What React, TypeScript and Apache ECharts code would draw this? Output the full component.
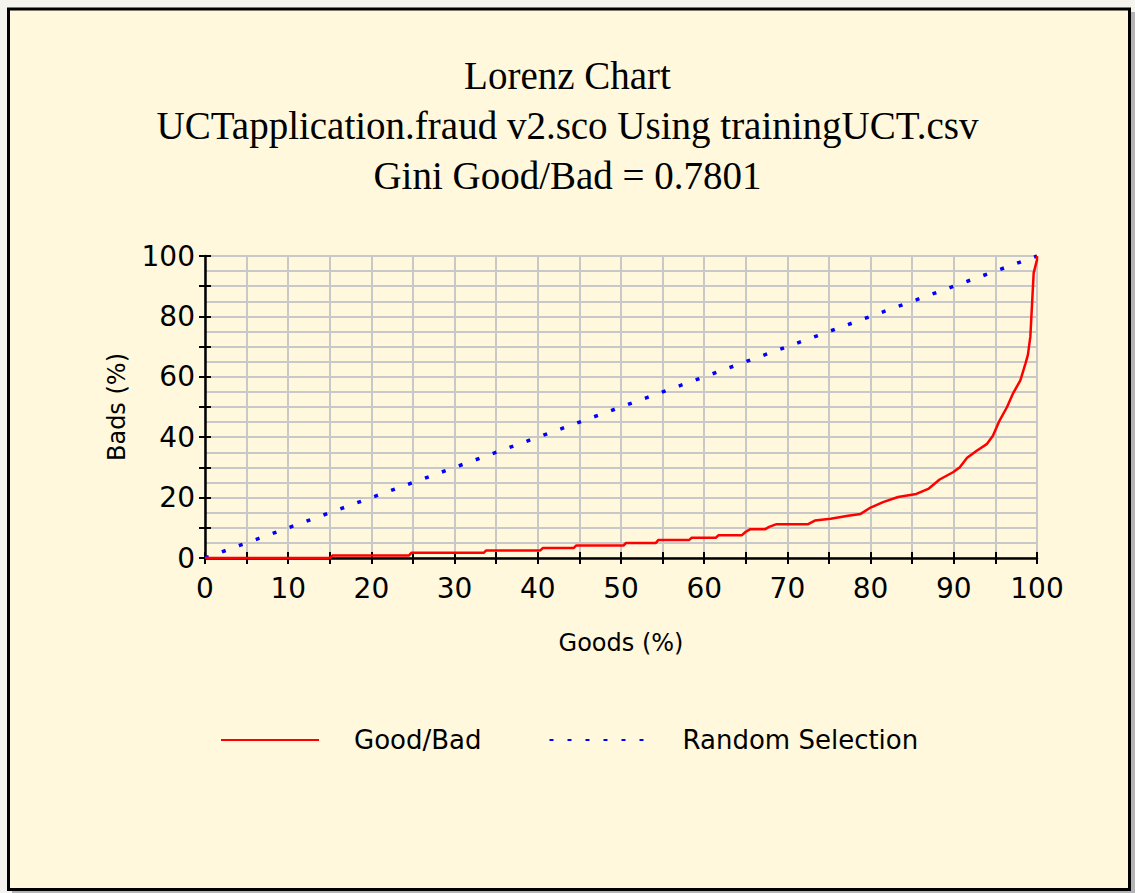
import React, { useEffect, useRef } from "react";
import * as echarts from "echarts";

const titleLines = [
  "Lorenz Chart",
  "UCTapplication.fraud v2.sco Using trainingUCT.csv",
  "Gini Good/Bad = 0.7801",
];
const seriesNames = ["Good/Bad", "Random Selection"];
const xAxisName = "Goods (%)";
const yAxisName = "Bads (%)";

// Lorenz curve (Good/Bad)
const goodsPct = [
  0, 15, 15.3, 24.5, 24.8, 33.5, 33.8, 40.3, 40.6, 44.3, 44.6, 50.3, 50.6, 54.2,
  54.5, 58.2, 58.5, 61.4, 61.7, 64.5, 65.0, 65.5, 67.3, 67.8, 68.7, 72.5, 73.3,
  75.2, 77.3, 78.8, 80.0, 81.5, 83.3, 85.5, 87.0, 88.3, 89.9, 90.7, 91.6, 92.8,
  94.0, 94.7, 95.5, 96.4, 97.1, 98.0, 98.6, 98.9, 99.2, 99.4, 99.6, 100, 100,
];
const badsPct = [
  0, 0, 0.8, 0.8, 1.7, 1.7, 2.5, 2.5, 3.3, 3.3, 4.1, 4.1, 5.0, 5.0, 6.0, 6.0,
  6.7, 6.7, 7.5, 7.5, 8.7, 9.5, 9.5, 10.3, 11.2, 11.2, 12.4, 13.0, 14.0, 14.6,
  16.7, 18.5, 20.2, 21.2, 23.0, 26.0, 28.4, 30.0, 33.2, 35.6, 37.8, 40.5, 45.5,
  50.0, 54.4, 58.8, 64.3, 67.2, 73.3, 83.8, 94.4, 98.7, 100,
];
// Random selection diagonal
const randomX = [0, 100];
const randomY = [0, 100];

const W = 1135;
const H = 893;

export default function App() {
  const ref = useRef<HTMLDivElement>(null);
  useEffect(() => {
    if (!ref.current) return;
    const chart = echarts.init(ref.current, null, { renderer: "svg" });
    const tickFont = { fontFamily: "DejaVu Sans", fontSize: 28, color: "#000" };
    const gridLine = { show: true, lineStyle: { color: "#c8c8c8", width: 2 } };
    const baseX = {
      type: "value",
      min: 0,
      max: 100,
      interval: 5,
      position: "bottom",
    };
    const baseY = {
      type: "value",
      min: 0,
      max: 100,
      interval: 10,
      position: "left",
    };
    chart.setOption({
      animation: false,
      backgroundColor: "#f4f3ee",
      graphic: [
        { type: "rect", z: -10, shape: { x: 12, y: 12, width: W - 12, height: H - 12 }, style: { fill: "#b4b4b4" }, silent: true },
        { type: "rect", z: -9, shape: { x: 8.5, y: 9, width: 1121, height: 880.5 }, style: { fill: "#FFF8DC", stroke: "#000", lineWidth: 3 }, silent: true },
      ],
      title: {
        text: titleLines.join("\n"),
        left: "center",
        top: 45,
        textStyle: {
          fontFamily: "Liberation Serif",
          fontSize: 39,
          fontWeight: "normal",
          lineHeight: 50,
          color: "#000",
        },
      },
      legend: {
        left: 215,
        top: 722,
        itemWidth: 98,
        itemHeight: 14,
        itemGap: 67,
        data: seriesNames,
        itemStyle: { opacity: 0 },
        textStyle: {
          fontFamily: "DejaVu Sans",
          fontSize: 26,
          color: "#000",
          padding: [0, 0, 0, 30],
        },
      },
      grid: { left: 205, right: W - 1037, top: 256, bottom: H - 558 },
      xAxis: [
        {
          ...baseX,
          name: xAxisName,
          nameLocation: "middle",
          nameGap: 73,
          nameTextStyle: { fontFamily: "DejaVu Sans", fontSize: 24, color: "#000" },
          axisLine: { show: true, onZero: false, lineStyle: { color: "#000", width: 2.5 } },
          axisTick: { show: true, length: 6, lineStyle: { color: "#000", width: 2 } },
          axisLabel: {
            ...tickFont,
            margin: 16,
            formatter: (v: number) => (Math.round(v) % 10 === 0 ? String(Math.round(v)) : ""),
          },
          splitLine: gridLine,
        },
        {
          ...baseX,
          axisLine: { show: false },
          axisTick: { show: true, inside: true, length: 6, lineStyle: { color: "#000", width: 2 } },
          axisLabel: { show: false },
          splitLine: { show: false },
        },
      ],
      yAxis: [
        {
          ...baseY,
          name: yAxisName,
          nameLocation: "middle",
          nameGap: 76,
          nameTextStyle: { fontFamily: "DejaVu Sans", fontSize: 24, color: "#000" },
          axisLine: { show: true, onZero: false, lineStyle: { color: "#000", width: 2.5 } },
          axisTick: { show: true, length: 6, lineStyle: { color: "#000", width: 2 } },
          axisLabel: {
            ...tickFont,
            margin: 10,
            formatter: (v: number) => (Math.round(v) % 20 === 0 ? String(Math.round(v)) : ""),
          },
          splitLine: gridLine,
          minorTick: { show: false, splitNumber: 2 },
          minorSplitLine: gridLine,
        },
        {
          ...baseY,
          axisLine: { show: false },
          axisTick: { show: true, inside: true, length: 6, lineStyle: { color: "#000", width: 2 } },
          axisLabel: { show: false },
          splitLine: { show: false },
        },
      ],
      series: [
        {
          name: seriesNames[0],
          type: "line",
          xAxisIndex: 0,
          yAxisIndex: 0,
          showSymbol: false,
          symbol: "none",
          data: goodsPct.map((x, i) => [x, badsPct[i]]),
          lineStyle: { color: "#ff0000", width: 2.5 },
          itemStyle: { color: "#ff0000" },
          z: 5,
        },
        {
          name: seriesNames[1],
          type: "line",
          xAxisIndex: 0,
          yAxisIndex: 0,
          showSymbol: false,
          symbol: "none",
          data: randomX.map((x, i) => [x, randomY[i]]),
          lineStyle: { color: "#0000ff", width: 3.5, type: [4, 14] },
          itemStyle: { color: "#0000ff" },
          z: 4,
        },
      ],
    });
    return () => chart.dispose();
  }, []);
  return (
    <div style={{ position: "absolute", left: 0, top: 0, width: W, height: H }}>
      <div ref={ref} style={{ width: W, height: H }} />
    </div>
  );
}
